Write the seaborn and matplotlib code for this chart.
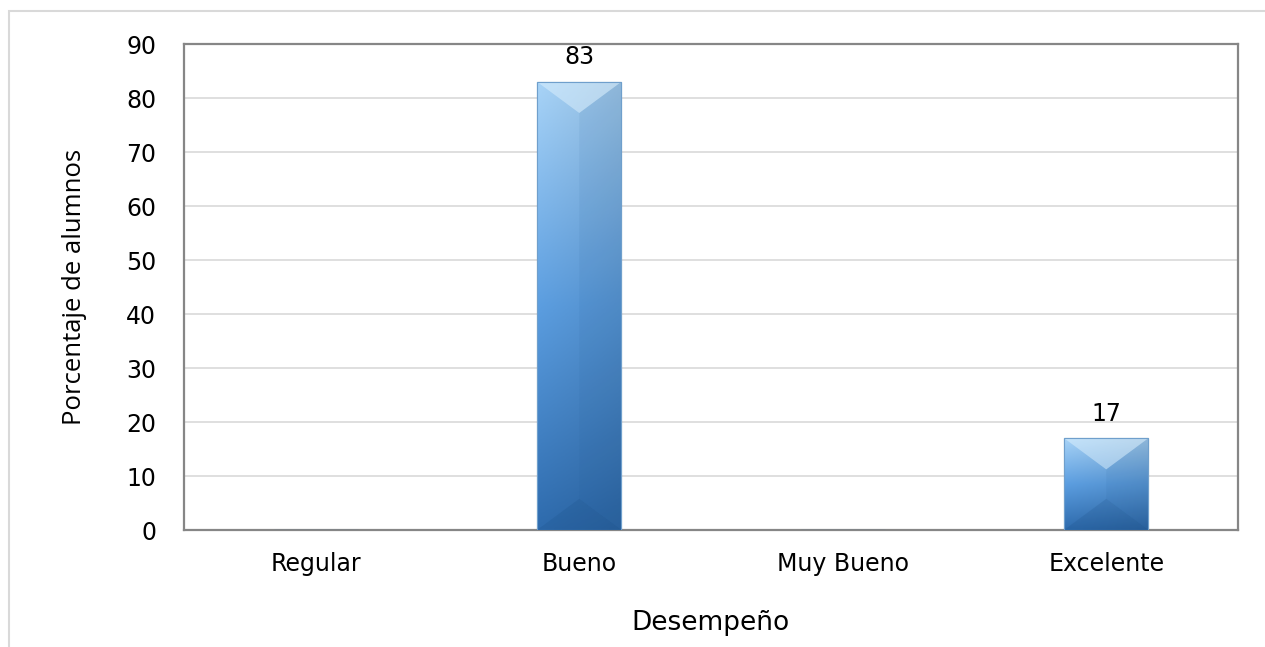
import matplotlib
matplotlib.use("Agg")
import matplotlib.pyplot as plt
import matplotlib.font_manager as fm
from matplotlib.patches import Polygon, Rectangle
import numpy as np
import pandas as pd
import seaborn as sns

categories = ["Regular", "Bueno", "Muy Bueno", "Excelente"]
values = [0, 83, 0, 17]
y_ticks = [0, 10, 20, 30, 40, 50, 60, 70, 80, 90]
x_title = "Desempeño"
y_title = "Porcentaje de alumnos"

sns.set_theme(style="white")
plt.rcParams["font.family"] = ["DejaVu Sans"]
plt.rcParams["text.color"] = "black"
plt.rcParams["axes.labelcolor"] = "black"
plt.rcParams["xtick.color"] = "black"
plt.rcParams["ytick.color"] = "black"

names = {f.name for f in fm.fontManager.ttflist}
narrow = "Liberation Sans Narrow" if "Liberation Sans Narrow" in names else "Open Sans"

df = pd.DataFrame({"cat": categories, "val": values})

fig = plt.figure(figsize=(12.65, 6.47), dpi=100)
# outer chart-area border
fig.patches.append(Rectangle((9 / 1265, -0.01), 1.2, (647 - 11) / 647 + 0.01,
                             transform=fig.transFigure, fill=False,
                             edgecolor="#d9d9d9", linewidth=1.5, zorder=0))
ax = fig.add_axes([184 / 1265, (647 - 530) / 647, (1238 - 184) / 1265, (530 - 44) / 647])

sns.barplot(data=df, x="cat", y="val", order=categories, ax=ax, width=0.32,
            color="#5b9bd5", edgecolor="#3d6f9e", linewidth=0.8, zorder=3)
xlim = ax.get_xlim()

ax.set_ylim(0, 90)
ax.set_yticks(y_ticks)
ax.set_yticklabels([str(t) for t in y_ticks], fontsize=17)
ax.tick_params(axis="x", labelsize=17, length=0, pad=16)
ax.tick_params(axis="y", length=0, pad=20)
ax.grid(axis="y", color="#d9d9d9", linewidth=1.2, zorder=0)
ax.set_axisbelow(True)
for s in ax.spines.values():
    s.set_color("#868686")
    s.set_linewidth(1.6)
ax.set_xlabel(x_title, fontsize=19, labelpad=24)
ax.set_ylabel(y_title, fontsize=18.5, labelpad=28, family=[narrow, "DejaVu Sans"])

# gradient + bevel on bars
grad_x = np.linspace(0, 1, 64)
grad_y = np.linspace(0, 1, 128)
GX, GY = np.meshgrid(grad_x, grad_y)
top_c = np.array([0.66, 0.83, 0.97])
mid_c = np.array([0.36, 0.62, 0.88])
bot_c = np.array([0.18, 0.42, 0.68])
t = GY[..., None]
img = np.where(t < 0.5,
               top_c * (1 - 2 * t) + mid_c * (2 * t),
               mid_c * (2 - 2 * t) + bot_c * (2 * t - 1))
img = img * (1.0 - 0.10 * GX[..., None])
img = np.clip(img, 0, 1)

for p in list(ax.patches):
    h = p.get_height()
    if h <= 0:
        continue
    x0, w = p.get_x(), p.get_width()
    im = ax.imshow(img, extent=[x0, x0 + w, 0, h], origin="upper", aspect="auto", zorder=4)
    im.set_clip_path(p)
    ax.set_xlim(xlim)
    ax.set_ylim(0, 90)
    bbox = ax.transData.transform([[x0, 0], [x0 + w, 0]])
    wpx = bbox[1, 0] - bbox[0, 0]
    ypx = ax.transData.transform([[0, 0], [0, 1]])
    unit = ypx[1, 1] - ypx[0, 1]
    depth = min(0.37 * wpx / unit, h / 2)
    xm = x0 + w / 2
    ax.add_patch(Polygon([[x0, h], [x0 + w, h], [xm, h - depth]], closed=True,
                         facecolor="#e6f6ff", alpha=0.45, edgecolor="none", zorder=5))
    ax.add_patch(Polygon([[x0, 0], [x0 + w, 0], [xm, depth]], closed=True,
                         facecolor="#174a80", alpha=0.18, edgecolor="none", zorder=5))
    ax.add_patch(Polygon([[x0 + w, 0], [x0 + w, h], [xm, h - depth], [xm, depth]],
                         closed=True, facecolor="#1d5690", alpha=0.07,
                         edgecolor="none", zorder=5))
    ax.add_patch(Rectangle((x0, 0), w, h, fill=False, edgecolor="#6f9fcc",
                           linewidth=0.8, zorder=6))
    ax.text(xm, h + 2.3, f"{h:g}", ha="center", va="bottom", fontsize=17, zorder=7)

ax.set_xlim(xlim)
ax.set_ylim(0, 90)
fig.savefig("out.png", dpi=100)
